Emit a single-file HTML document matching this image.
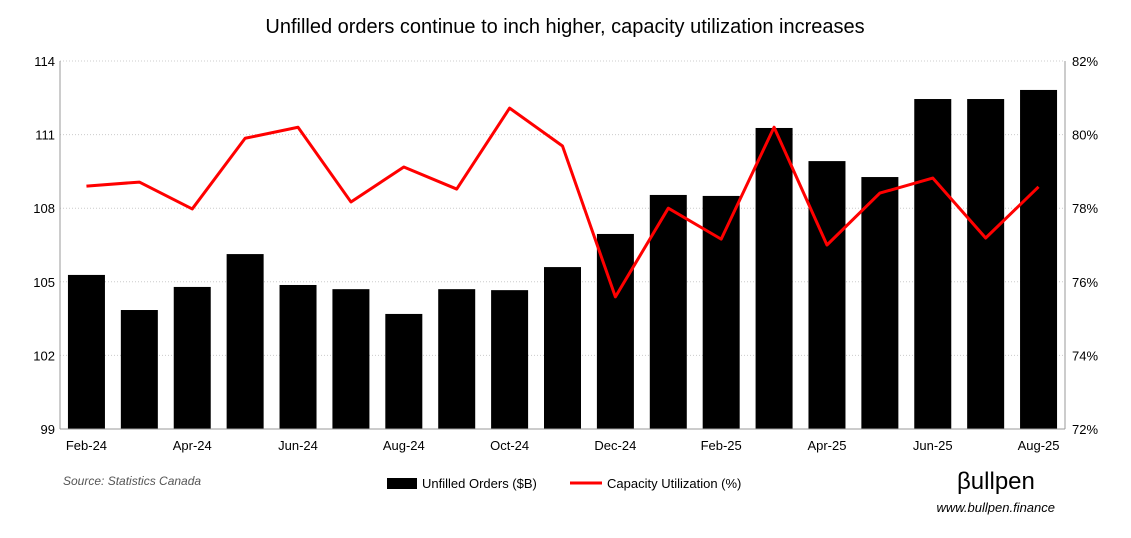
<!DOCTYPE html>
<html><head><meta charset="utf-8"><style>
body{margin:0;background:#fff;font-family:"Liberation Sans",sans-serif}
</style></head><body>
<svg id="chart" width="1131" height="533" xmlns="http://www.w3.org/2000/svg" font-family="Liberation Sans, sans-serif">
<text x="565" y="33" text-anchor="middle" font-size="20" fill="#000">Unfilled orders continue to inch higher, capacity utilization increases</text>
<g id="grid"></g><g id="bars"></g><g id="line"></g><g id="axes"></g>
<text x="63" y="485" font-size="12" font-style="italic" fill="#555">Source: Statistics Canada</text>
<g>
<rect x="387" y="478" width="30" height="11" fill="#000"/>
<text x="422" y="488" font-size="13">Unfilled Orders ($B)</text>
<line x1="570" y1="483" x2="602" y2="483" stroke="#f00" stroke-width="3"/>
<text x="607" y="488" font-size="13">Capacity Utilization (%)</text>
</g>
<text x="957" y="489" font-size="24" fill="#000">βullpen</text>
<text x="1055" y="512" text-anchor="end" font-size="13" font-style="italic">www.bullpen.finance</text>
</svg>
<script>
const categories=["Feb-24","Mar-24","Apr-24","May-24","Jun-24","Jul-24","Aug-24","Sep-24","Oct-24","Nov-24","Dec-24","Jan-25","Feb-25","Mar-25","Apr-25","May-25","Jun-25","Jul-25","Aug-25"];
const orders=[105.28,103.85,104.79,106.13,104.87,104.7,103.69,104.7,104.66,105.6,106.95,108.54,108.5,111.27,109.92,109.27,112.45,112.45,112.82];
const capacity=[78.6,78.71,77.98,79.9,80.2,78.17,79.12,78.52,80.72,79.69,75.59,78.0,77.16,80.2,77.0,78.41,78.82,77.19,78.58];
const leftTicks=[99,102,105,108,111,114];
const rightTicks=[72,74,76,78,80,82];
const NS="http://www.w3.org/2000/svg";
const X0=60,X1=1065,Y0=429,Y1=61;
const step=(X1-X0)/categories.length;
const x=i=>X0+step*(i+0.5);
const yL=v=>Y0-(v-99)/(114-99)*(Y0-Y1);
const yR=v=>Y0-(v-72)/(82-72)*(Y0-Y1);
function mk(tag,attrs,parent){const e=document.createElementNS(NS,tag);for(const k in attrs)e.setAttribute(k,attrs[k]);document.getElementById(parent).appendChild(e);return e;}
leftTicks.forEach((t,i)=>{
 const g=mk("line",{x1:X0,x2:X1,y1:yL(t),y2:yL(t),stroke:"#ccc","stroke-dasharray":"1,2"},"grid");
 
 
 const l=mk("text",{x:X0-5,y:yL(t)+5,"text-anchor":"end","font-size":"13"},"axes");l.textContent=t;
 
 
});
rightTicks.forEach(t=>{
 const l=mk("text",{x:X1+7,y:yR(t)+5,"font-size":"13"},"axes");l.textContent=t+"%";
 
 
});
let ax=mk("line",{x1:X0,x2:X0,y1:Y1,y2:Y0,stroke:"#999"},"axes");


ax=mk("line",{x1:X1,x2:X1,y1:Y1,y2:Y0,stroke:"#999"},"axes");


ax=mk("line",{x1:X0,x2:X1,y1:Y0,y2:Y0,stroke:"#999"},"axes");


categories.forEach((c,i)=>{
 const b=mk("rect",{x:x(i)-18.5,width:37,y:yL(orders[i]),height:Y0-yL(orders[i]),fill:"#000"},"bars");
 
 
 if(i%2===0){const l=mk("text",{x:x(i),y:Y0+21,"text-anchor":"middle","font-size":"13"},"axes");l.textContent=c;
 
 }
});
const p=mk("polyline",{points:capacity.map((v,i)=>x(i)+","+yR(v)).join(" "),fill:"none",stroke:"#f00","stroke-width":"3","stroke-linejoin":"round"},"line");


</script>
</body></html>
